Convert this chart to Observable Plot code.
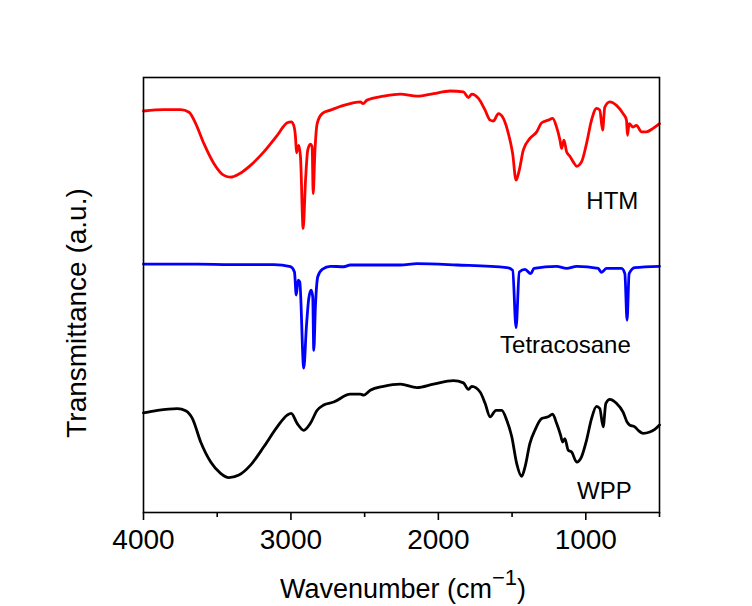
<!DOCTYPE html>
<html>
<head>
<meta charset="utf-8">
<script src="https://cdn.jsdelivr.net/npm/d3@7"></script>
<script src="https://cdn.jsdelivr.net/npm/@observablehq/plot@0.6"></script>
<style>
  html, body { margin: 0; padding: 0; background: #ffffff; }
  #chart { width: 752px; height: 606px; }
</style>
</head>
<body>
<div id="chart"></div>
<script>
// ---- Data ----
// Wavenumber in cm^-1, transmittance in arbitrary units (stacked, 0..100)
const htmWavenumber = [4000,3861,3748,3691,3646,3590,3522,3454,3409,3353,3274,3184,3093,3025,2998,2981,2969,2962,2947,2935,2917,2901,2886,2868,2856,2849,2838,2822,2788,2732,2642,2529,2511,2484,2372,2258,2145,2033,1920,1830,1796,1773,1728,1683,1649,1627,1593,1559,1525,1496,1473,1451,1424,1379,1333,1299,1255,1225,1198,1175,1164,1148,1130,1108,1085,1062,1029,995,961,927,905,886,871,837,792,747,724,717,706,679,656,622,589,544,500];
const htmValue      = [92.3,92.6,92.6,92.0,89.4,84.8,80.2,77.5,77.1,77.8,79.8,82.9,86.7,89.6,89.8,89.0,86.3,82.7,84.4,81.7,65.3,76.4,83.3,84.7,84.0,73.3,82.5,89.4,91.7,92.5,93.6,94.4,94.0,94.8,95.7,96.2,95.7,96.3,96.9,96.7,95.4,96.2,95.2,92.5,90.2,90.0,91.7,90.6,87.1,82.5,76.4,78.7,83.3,86.0,87.5,89.6,90.2,90.6,88.6,85.6,83.7,85.6,82.9,81.9,80.6,79.6,80.6,84.8,90.2,92.9,92.5,87.9,93.2,94.4,93.6,91.7,90.2,86.7,89.4,88.6,89.0,87.5,87.5,88.3,89.4];

const tetWavenumber = [4000,3634,3409,3116,3003,2976,2964,2951,2940,2913,2895,2879,2863,2852,2845,2834,2818,2788,2732,2642,2597,2258,2145,1875,1536,1496,1473,1451,1412,1374,1351,1198,1130,1062,916,893,859,758,735,720,706,668,500];
const tetValue      = [57.1,57.1,57.0,57.0,56.5,55.3,50.0,53.4,53.0,33.2,42.7,49.2,51.1,49.6,37.3,47.3,54.2,55.9,56.6,56.5,56.9,56.9,57.2,56.9,56.3,55.7,42.5,55.3,55.9,54.9,56.1,56.6,56.1,56.6,56.1,55.2,56.1,56.1,54.9,44.2,54.9,56.3,56.6];

const wppWavenumber = [4000,3905,3770,3714,3668,3612,3544,3477,3421,3353,3274,3184,3093,3025,2998,2958,2913,2868,2822,2778,2710,2597,2529,2507,2462,2372,2258,2145,2033,1898,1830,1796,1773,1717,1683,1649,1609,1570,1536,1502,1469,1435,1412,1379,1345,1299,1255,1225,1198,1171,1157,1142,1119,1096,1062,1029,995,961,927,905,882,864,837,792,747,720,702,668,645,612,566,532,500];
const wppValue      = [22.9,23.5,23.9,23.4,21.6,16.2,11.6,9.0,8.0,8.6,10.9,15.1,19.7,22.4,22.8,20.5,18.9,20.5,23.5,24.7,25.4,27.2,27.2,27.0,28.1,29.0,29.5,28.7,29.5,30.3,29.8,28.3,29.0,27.7,25.1,22.0,23.5,23.5,21.2,17.4,11.3,8.3,10.5,15.9,18.9,21.6,22.0,22.6,20.5,17.8,16.2,17.0,14.3,13.9,11.6,12.8,16.6,21.6,24.4,23.9,19.7,25.1,26.0,25.1,23.1,20.8,20.1,19.7,18.9,18.2,18.5,19.1,20.1];

const seriesNames  = ["HTM", "Tetracosane", "WPP"];
const seriesColors = ["#ff0000", "#0000ff", "#000000"];

// Label anchors (wavenumber, value) for each spectrum name
const labelWavenumber = [820, 1138, 874];
const labelValue      = [69.7, 36.6, 3.2];

const majorTicks = [4000, 3000, 2000, 1000];
const minorTicks = [3500, 2500, 1500, 500];

const xTitle = "Wavenumber (cm";
const xTitleSup = "\u22121";
const yTitle = "Transmittance (a.u.)";

// ---- Build table ----
const spectra = [];
[[htmWavenumber, htmValue], [tetWavenumber, tetValue], [wppWavenumber, wppValue]].forEach(([ws, vs], i) => {
  ws.forEach((w, j) => spectra.push({series: seriesNames[i], wavenumber: w, value: vs[j]}));
});
const labels = seriesNames.map((name, i) => ({name, wavenumber: labelWavenumber[i], value: labelValue[i]}));

const font = "'Liberation Sans', Arial, Helvetica, sans-serif";

const chart = Plot.plot({
  width: 752,
  height: 606,
  marginLeft: 143,
  marginRight: 93,
  marginTop: 77,
  marginBottom: 94,
  style: {fontFamily: font, background: "#ffffff", color: "#000"},
  x: {domain: [4000, 500]},
  y: {domain: [0, 100], axis: null},
  color: {domain: seriesNames, range: seriesColors},
  marks: [
    Plot.line(spectra, {x: "wavenumber", y: "value", z: "series", stroke: "series", strokeWidth: 2.8, curve: "monotone-x", strokeLinejoin: "round"}),
    Plot.frame({stroke: "#000", strokeWidth: 1.6}),
    Plot.axisX({ticks: majorTicks, tickSize: 8, tickPadding: 9, fontSize: 28, strokeWidth: 1.6, label: null, tickFormat: d => String(d)}),
    Plot.axisX({ticks: minorTicks, tickSize: 5, strokeWidth: 1.6, label: null, tickFormat: () => ""}),
    Plot.text(labels, {x: "wavenumber", y: "value", text: "name", fontSize: 24, textAnchor: "middle", lineAnchor: "bottom", fill: "#000"})
  ]
});

const svg = d3.select(chart);
const xt = svg.append("text")
  .attr("x", 403)
  .attr("y", 598)
  .attr("text-anchor", "middle")
  .attr("font-size", 27)
  .attr("font-family", font)
  .attr("fill", "#000");
xt.append("tspan").text(xTitle);
xt.append("tspan").attr("dy", -13).attr("font-size", 22).text(xTitleSup);
xt.append("tspan").attr("dy", 13).text(")");

svg.append("text")
  .attr("transform", "translate(86,313) rotate(-90)")
  .attr("text-anchor", "middle")
  .attr("font-size", 28)
  .attr("font-family", font)
  .attr("fill", "#000")
  .text(yTitle);

document.getElementById("chart").appendChild(chart);
</script>
</body>
</html>
